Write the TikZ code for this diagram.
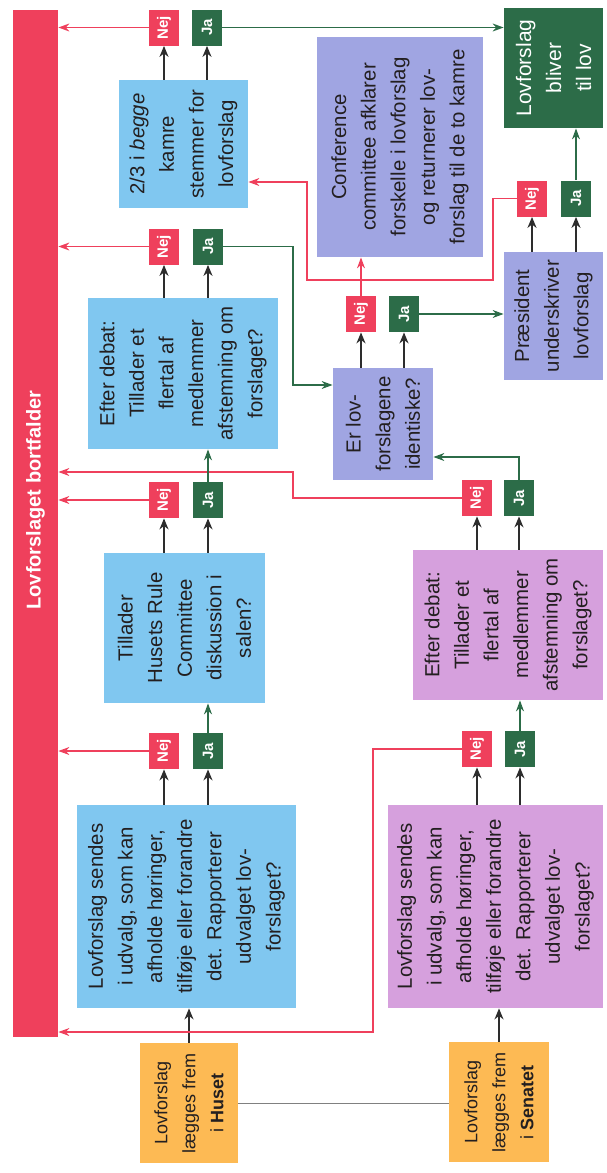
\documentclass[tikz,border=0pt]{standalone}
\usepackage{fontspec}
\setmainfont{Liberation Sans}
\usetikzlibrary{arrows.meta}

\definecolor{nejred}{RGB}{239,64,92}
\definecolor{jagreen}{RGB}{44,108,72}
\definecolor{husblue}{RGB}{128,199,240}
\definecolor{senpink}{RGB}{214,160,221}
\definecolor{bothlilac}{RGB}{160,165,226}
\definecolor{startorange}{RGB}{253,186,84}
\definecolor{inktext}{RGB}{35,31,32}
\definecolor{arrowgray}{RGB}{45,45,45}

\tikzset{
  box/.style={rectangle, rotate=90, align=center, inner sep=1pt, text=inktext, font=\fontsize{10.2}{14.8}\selectfont},
  husbox/.style={box, fill=husblue},
  senbox/.style={box, fill=senpink},
  bothbox/.style={box, fill=bothlilac},
  startbox/.style={box, fill=startorange, font=\fontsize{9}{14}\selectfont},
  lawbox/.style={box, fill=jagreen, text=white, font=\fontsize{10.5}{15}\selectfont},
  vote/.style={rectangle, rotate=90, minimum width=18pt, minimum height=15pt, inner sep=0pt, text=white, font=\bfseries\fontsize{7.5}{8}\selectfont},
  nej/.style={vote, fill=nejred},
  ja/.style={vote, fill=jagreen},
  arr/.style={draw=arrowgray, line width=0.9pt, -{Stealth[length=5.5pt,width=4.5pt]}},
  nejline/.style={draw=nejred, line width=0.6pt, -{Stealth[length=5.5pt,width=4pt]}},
  jaline/.style={draw=jagreen, line width=0.6pt, -{Stealth[length=5.5pt,width=4pt]}},
}

\begin{document}
\begin{tikzpicture}[x=0.5pt,y=-0.5pt]
  \path[use as bounding box] (0,0) rectangle (606,1173);

  \node[fill=nejred, rotate=90, minimum width=513.5pt, minimum height=22.5pt] (bar) at (35.5,523.5) {};
  \node[rotate=90, text=white, font=\bfseries\fontsize{10}{12}\selectfont] (bartext) at (35.5,500) {Lovforslaget bortfalder};

  \node[startbox, minimum width=60pt, minimum height=49pt] (husstart) at (189,1103) {Lovforslag\\lægges frem\\i \textbf{Huset}};
  \node[startbox, minimum width=60pt, minimum height=50pt] (senstart) at (499,1102) {Lovforslag\\lægges frem\\i \textbf{Senatet}};

  \node[husbox, minimum width=101.5pt, minimum height=109.5pt] (hcomm) at (186.5,906.5) {Lovforslag sendes\\i udvalg, som kan\\afholde høringer,\\tilføje eller forandre\\det. Rapporterer\\udvalget lov-\\forslaget?};
  \node[senbox, minimum width=101.5pt, minimum height=107.5pt] (scomm) at (495.5,906.5) {Lovforslag sendes\\i udvalg, som kan\\afholde høringer,\\tilføje eller forandre\\det. Rapporterer\\udvalget lov-\\forslaget?};
  \node[husbox, minimum width=75pt, minimum height=80.5pt] (hrule) at (184.5,628) {Tillader\\Husets Rule\\Committee\\diskussion i\\salen?};
  \node[husbox, minimum width=75.5pt, minimum height=95pt] (hfloor) at (183,373.5) {Efter debat:\\Tillader et\\flertal af\\medlemmer\\afstemning om\\forslaget?};
  \node[senbox, minimum width=75pt, minimum height=95pt] (sfloor) at (508,625) {Efter debat:\\Tillader et\\flertal af\\medlemmer\\afstemning om\\forslaget?};
  \node[husbox, minimum width=64pt, minimum height=64.5pt] (over) at (183.5,144) {2/3 i \textit{begge}\\kamre\\stemmer for\\lovforslag};
  \node[bothbox, minimum width=56pt, minimum height=50pt] (same) at (383,424) {Er lov-\\forslagene\\identiske?};
  \node[bothbox, minimum width=110pt, minimum height=83pt] (conf) at (400,147) {Conference\\committee afklarer\\forskelle i lovforslag\\og returnerer lov-\\forslag til de to kamre};
  \node[bothbox, minimum width=64pt, minimum height=49.5pt] (pres) at (553.5,316) {Præsident\\underskriver\\lovforslag};
  \node[lawbox, minimum width=60pt, minimum height=49.5pt] (law) at (553.5,68) {Lovforslag\\bliver\\til lov};

  \node[nej] (hcomm-nej) at (164,751) {Nej};
  \node[ja] (hcomm-ja) at (208,751) {Ja};
  \node[nej] (hrule-nej) at (164,500) {Nej};
  \node[ja] (hrule-ja) at (208,500) {Ja};
  \node[nej] (hfloor-nej) at (164,246.5) {Nej};
  \node[ja] (hfloor-ja) at (208,246.5) {Ja};
  \node[nej] (over-nej) at (164,27.5) {Nej};
  \node[ja] (over-ja) at (207,27.5) {Ja};
  \node[nej] (scomm-nej) at (477,749) {Nej};
  \node[ja] (scomm-ja) at (520,749) {Ja};
  \node[nej] (sfloor-nej) at (477,498) {Nej};
  \node[ja] (sfloor-ja) at (519,498) {Ja};
  \node[nej] (same-nej) at (361,314) {Nej};
  \node[ja] (same-ja) at (404,314) {Ja};
  \node[nej] (pres-nej) at (532,198.5) {Nej};
  \node[ja] (pres-ja) at (576,198.5) {Ja};

  \coordinate (hfbend) at (293,385);
  \coordinate (sfbend) at (519,457);
  \coordinate (sfnbend) at (293,472);
  \coordinate (scbend) at (373,1032);
  \coordinate (pbend) at (493,280);
  \coordinate (pbend2) at (307,182);

  \draw[draw=gray, line width=0.5pt] (husstart.south) -- (husstart.south -| senstart.north);
  \draw[arr] (husstart.east) -- (husstart.east |- hcomm.west);
  \draw[arr] (senstart.east) -- (senstart.east |- scomm.west);

  \draw[arr] (hcomm-nej |- hcomm.east) -- (hcomm-nej.west);
  \draw[arr] (hcomm-ja |- hcomm.east) -- (hcomm-ja.west);
  \draw[arr] (hrule-nej |- hrule.east) -- (hrule-nej.west);
  \draw[arr] (hrule-ja |- hrule.east) -- (hrule-ja.west);
  \draw[arr] (hfloor-nej |- hfloor.east) -- (hfloor-nej.west);
  \draw[arr] (hfloor-ja |- hfloor.east) -- (hfloor-ja.west);
  \draw[arr] (over-nej |- over.east) -- (over-nej.west);
  \draw[arr] (over-ja |- over.east) -- (over-ja.west);
  \draw[arr] (scomm-nej |- scomm.east) -- (scomm-nej.west);
  \draw[arr] (scomm-ja |- scomm.east) -- (scomm-ja.west);
  \draw[arr] (sfloor-nej |- sfloor.east) -- (sfloor-nej.west);
  \draw[arr] (sfloor-ja |- sfloor.east) -- (sfloor-ja.west);
  \draw[arr] (same-nej |- same.east) -- (same-nej.west);
  \draw[arr] (same-ja |- same.east) -- (same-ja.west);
  \draw[arr] (pres-nej |- pres.east) -- (pres-nej.west);
  \draw[arr] (pres-ja |- pres.east) -- (pres-ja.west);

  \draw[nejline] (hcomm-nej.north) -- (hcomm-nej.north -| bar.south);
  \draw[nejline] (hrule-nej.north) -- (hrule-nej.north -| bar.south);
  \draw[nejline] (hfloor-nej.north) -- (hfloor-nej.north -| bar.south);
  \draw[nejline] (over-nej.north) -- (over-nej.north -| bar.south);
  \draw[nejline] (sfloor-nej.north) -| (sfnbend) -- (sfnbend -| bar.south);
  \draw[nejline] (scomm-nej.north) -| (scbend) -- (scbend -| bar.south);
  \draw[nejline] (same-nej.east) -- (same-nej |- conf.west);
  \draw[nejline] (pres-nej.north) -| (pbend) -| (pbend2) -- (pbend2 -| over.south);

  \draw[jaline] (hcomm-ja.east) -- (hcomm-ja |- hrule.west);
  \draw[jaline] (hrule-ja.east) -- (hrule-ja |- hfloor.west);
  \draw[jaline] (scomm-ja.east) -- (scomm-ja |- sfloor.west);
  \draw[jaline] (hfloor-ja.south) -| (hfbend) -- (hfbend -| same.north);
  \draw[jaline] (sfloor-ja.east) -- (sfbend) -- (sfbend -| same.south);
  \draw[jaline] (same-ja.south) -- (same-ja.south -| pres.north);
  \draw[jaline] (over-ja.south) -- (over-ja.south -| law.north);
  \draw[jaline] (pres-ja.east) -- (pres-ja |- law.west);
\end{tikzpicture}
\end{document}
